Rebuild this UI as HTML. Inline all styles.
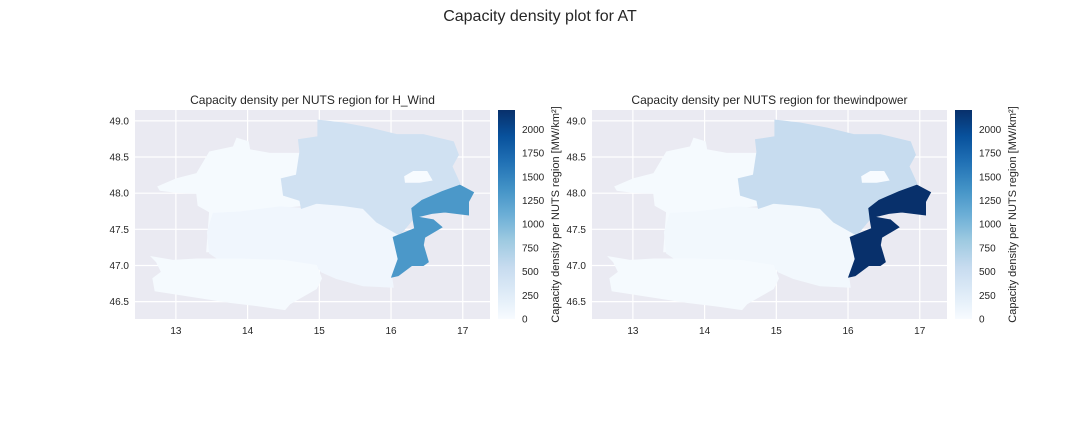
<!DOCTYPE html>
<html><head><meta charset="utf-8">
<style>
body{margin:0;background:#fff;}
svg{display:block;font-family:"Liberation Sans",sans-serif;}
</style></head>
<body>
<svg id="fig" width="1080" height="432" viewBox="0 0 1080 432">
<text x="540" y="21" text-anchor="middle" font-size="16" fill="#262626">Capacity density plot for AT</text>
</svg>
<script>
const xTicks=[13,14,15,16,17];
const yTicks=[46.5,47.0,47.5,48.0,48.5,49.0];
const cbTicks=[0,250,500,750,1000,1250,1500,1750,2000];
const cbMax=2205;
const regionNames=["west","styria","carinthia","north","vienna","burgenland"];
const valuesHWind=[20,80,20,440,0,1320];
const valuesWindpower=[20,60,20,540,0,2205];
const lonWest=[12.75,13.01,13.29,13.47,13.80,13.85,14.01,14.03,14.31,14.73,14.75,13.89,13.59,13.52,13.57,13.43,13.47,13.31,13.29,13.01,12.78];
const latWest=[48.09,48.20,48.27,48.57,48.64,48.76,48.71,48.60,48.55,48.55,47.83,47.74,47.69,47.46,47.19,47.19,47.74,47.83,48.00,48.01,48.04];
const lonStyria=[13.52,13.89,14.45,14.75,14.96,15.33,15.61,15.80,16.12,16.03,16.10,16.01,16.03,15.61,15.24,15.03,14.96,14.50,13.87,13.80,13.47,13.44];
const latStyria=[47.72,47.74,47.81,47.79,47.86,47.83,47.79,47.60,47.42,47.39,47.09,46.84,46.70,46.72,46.82,46.91,47.00,47.07,47.09,46.95,47.17,47.46];
const lonCarinthia=[12.66,12.96,13.29,13.87,14.50,14.96,15.03,14.96,14.59,14.52,14.17,13.75,13.29,12.71,12.68,12.80,12.73];
const latCarinthia=[47.12,47.07,47.09,47.09,47.07,47.00,46.82,46.68,46.47,46.39,46.44,46.49,46.56,46.65,46.82,46.91,47.05];
const lonNorth=[14.98,15.33,15.71,16.08,16.45,16.87,16.94,16.85,16.96,16.71,16.40,16.29,16.33,16.12,15.80,15.61,15.33,14.96,14.75,14.73,14.50,14.47,14.68,14.73,14.71,14.98];
const latNorth=[49.01,48.97,48.90,48.81,48.81,48.71,48.53,48.37,48.13,48.02,47.90,47.79,47.67,47.42,47.60,47.79,47.83,47.86,47.79,47.90,47.97,48.20,48.25,48.57,48.74,48.78];
const lonVienna=[16.19,16.31,16.50,16.57,16.40,16.20];
const latVienna=[48.23,48.30,48.30,48.18,48.15,48.15];
const lonBurgenland=[16.96,17.15,17.08,17.08,16.75,16.57,16.36,16.59,16.71,16.47,16.45,16.52,16.45,16.29,16.10,16.01,16.10,16.03,16.33,16.31,16.29,16.43,16.71];
const latBurgenland=[48.11,48.01,47.88,47.70,47.74,47.72,47.67,47.63,47.53,47.39,47.28,47.05,47.00,47.00,46.86,46.84,47.09,47.39,47.51,47.62,47.79,47.90,48.02];
const lons=[lonWest,lonStyria,lonCarinthia,lonNorth,lonVienna,lonBurgenland];
const lats=[latWest,latStyria,latCarinthia,latNorth,latVienna,latBurgenland];

const NS="http://www.w3.org/2000/svg";
const svg=document.getElementById('fig');
const blues=["#f7fbff","#deebf7","#c6dbef","#9ecae1","#6baed6","#4292c6","#2171b5","#08519c","#08306b"];
function hex(c){return [1,3,5].map(i=>parseInt(c.substr(i,2),16));}
function cmap(t){t=Math.max(0,Math.min(1,t))*8;const i=Math.min(7,Math.floor(t));const f=t-i;const a=hex(blues[i]),b=hex(blues[i+1]);return 'rgb('+a.map((v,k)=>Math.round(v+(b[k]-v)*f)).join(',')+')';}
function el(tag,attrs,parent){const e=document.createElementNS(NS,tag);for(const k in attrs)e.setAttribute(k,attrs[k]);(parent||svg).appendChild(e);return e;}

function panel(ax0,title,values,key){
  const ax1=ax0+355, ay0=110, ay1=319;
  const lon0=12.43,lon1=17.38,lat0=46.26,lat1=49.15;
  const X=v=>ax0+(v-lon0)/(lon1-lon0)*(ax1-ax0);
  const Y=v=>ay1-(v-lat0)/(lat1-lat0)*(ay1-ay0);
  const g=el('g',{});
  
  
  el('rect',{x:ax0,y:ay0,width:ax1-ax0,height:ay1-ay0,fill:'#eaeaf2'},g);
  xTicks.forEach(t=>{
    el('line',{x1:X(t),x2:X(t),y1:ay0,y2:ay1,stroke:'#fff','stroke-width':1.2},g);
    const tx=el('text',{x:X(t),y:ay1+15,'text-anchor':'middle','font-size':10,fill:'#262626'},g);
    tx.textContent=t;
    
    
  });
  yTicks.forEach(t=>{
    el('line',{x1:ax0,x2:ax1,y1:Y(t),y2:Y(t),stroke:'#fff','stroke-width':1.2},g);
    const tx=el('text',{x:ax0-6,y:Y(t)+3.5,'text-anchor':'end','font-size':10,fill:'#262626'},g);
    tx.textContent=t.toFixed(1);
    
    
  });
  regionNames.forEach((n,i)=>{
    const pts=lons[i].map((lo,j)=>X(lo).toFixed(1)+','+Y(lats[i][j]).toFixed(1)).join(' ');
    const c=cmap(values[i]/cbMax);
    const p=el('polygon',{points:pts,fill:c,stroke:c,'stroke-width':1},g);
    
    
  });
  const tt=el('text',{x:(ax0+ax1)/2,y:104,'text-anchor':'middle','font-size':12,fill:'#262626'});
  tt.textContent=title;
  
  
  const cx=ax1+8, cw=17;
  const cb=el('g',{});
  
  
  const gid='grad'+key;
  const defs=el('defs',{},cb);
  const lg=el('linearGradient',{id:gid,x1:0,y1:1,x2:0,y2:0},defs);
  blues.forEach((c,i)=>el('stop',{offset:i/8,'stop-color':c},lg));
  el('rect',{x:cx,y:ay0,width:cw,height:ay1-ay0,fill:'url(#'+gid+')'},cb);
  const CY=v=>ay1-v/cbMax*(ay1-ay0);
  cbTicks.forEach(t=>{
    const tx=el('text',{x:cx+cw+7,y:CY(t)+3.5,'font-size':10,fill:'#262626'},cb);
    tx.textContent=t;
    
    
  });
  const lb=el('text',{x:0,y:0,'font-size':11,fill:'#262626','text-anchor':'middle',transform:'translate('+(cx+cw+44)+','+((ay0+ay1)/2)+') rotate(-90)'},cb);
  lb.textContent='Capacity density per NUTS region [MW/km²]';
  
  
}
panel(135,'Capacity density per NUTS region for H_Wind',valuesHWind,'h-wind');
panel(592,'Capacity density per NUTS region for thewindpower',valuesWindpower,'thewindpower');
</script>
</body></html>
